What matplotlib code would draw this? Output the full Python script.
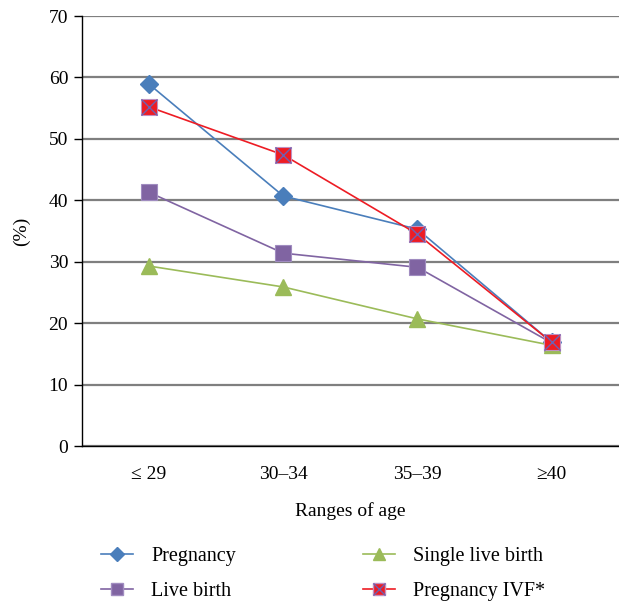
import matplotlib
matplotlib.use("Agg")
import matplotlib.pyplot as plt
from matplotlib.lines import Line2D

categories = ["\u2264 29", "30\u201334", "35\u201339", "\u226540"]
pregnancy = [58.9, 40.7, 35.3, 16.9]
live_birth = [41.3, 31.4, 29.1, 16.8]
single_live_birth = [29.3, 25.9, 20.7, 16.4]
pregnancy_ivf = [55.2, 47.4, 34.5, 16.9]
y_ticks = [0, 10, 20, 30, 40, 50, 60, 70]

plt.rcParams['font.family'] = ['Liberation Serif', 'DejaVu Serif']

fig = plt.figure(figsize=(6.19, 6.02), dpi=100)
ax = fig.add_axes([0.1325, 0.259, 0.867, 0.7144])

x = list(range(len(categories)))
c_preg = "#4A7EBB"
c_live = "#8064A2"
c_single = "#9BBB59"
c_ivf = "#ED1C24"
c_x = "#7060B0"

ax.plot(x, pregnancy, color=c_preg, lw=1.2, marker="D", ms=9.5, mfc=c_preg, mec=c_preg, zorder=3)
ax.plot(x, live_birth, color=c_live, lw=1.2, marker="s", ms=11, mfc=c_live, mec="#A08CC0", mew=0.8, zorder=3)
ax.plot(x, single_live_birth, color=c_single, lw=1.2, marker="^", ms=11, mfc=c_single, mec=c_single, zorder=3)
ax.plot(x, pregnancy_ivf, color=c_ivf, lw=1.2, marker="s", ms=11, mfc=c_ivf, mec="#C090C0", mew=0.8, zorder=4)
ax.plot(x, pregnancy_ivf, ls="none", marker="x", ms=11, mec=c_x, mew=1.0, zorder=5)

ax.set_xlim(-0.5, 3.5)
ax.set_ylim(0, 70)
ax.set_yticks(y_ticks)
ax.set_xticks(x)
ax.set_xticklabels(categories)
ax.yaxis.grid(True, color="#7f7f7f", lw=1.6)
ax.set_axisbelow(True)
for s in ["top", "right"]:
    ax.spines[s].set_visible(False)
ax.spines["left"].set_color("black")
ax.spines["bottom"].set_color("black")
ax.spines["left"].set_linewidth(1.0)
ax.spines["bottom"].set_linewidth(1.0)
ax.tick_params(axis="y", length=6, width=1.0, labelsize=14, pad=4)
ax.tick_params(axis="x", length=0, labelsize=14, pad=14)
ax.set_xlabel("Ranges of age", fontsize=14, labelpad=14)
ax.set_ylabel("(%)", fontsize=14, labelpad=13)

h1 = Line2D([], [], color=c_preg, lw=1.2, marker="D", ms=7, mfc=c_preg, mec=c_preg)
h2 = Line2D([], [], color=c_live, lw=1.2, marker="s", ms=9, mfc=c_live, mec="#A08CC0")
h3 = Line2D([], [], color=c_single, lw=1.2, marker="^", ms=9, mfc=c_single, mec=c_single)
h4a = Line2D([], [], color=c_ivf, lw=1.2, marker="s", ms=9, mfc=c_ivf, mec="#C090C0")
h4b = Line2D([], [], ls="none", marker="x", ms=9, mec=c_x, mew=1.0)

fig.legend([h1, h2, h3, (h4a, h4b)],
           ["Pregnancy", "Live birth", "Single live birth", "Pregnancy IVF*"],
           ncol=2, loc="upper left", bbox_to_anchor=(0.150, 0.105),
           frameon=False, fontsize=14.5, handlelength=1.6, columnspacing=6.3,
           handletextpad=0.9, labelspacing=0.78, borderaxespad=0)

fig.savefig("out.png", dpi=100)
